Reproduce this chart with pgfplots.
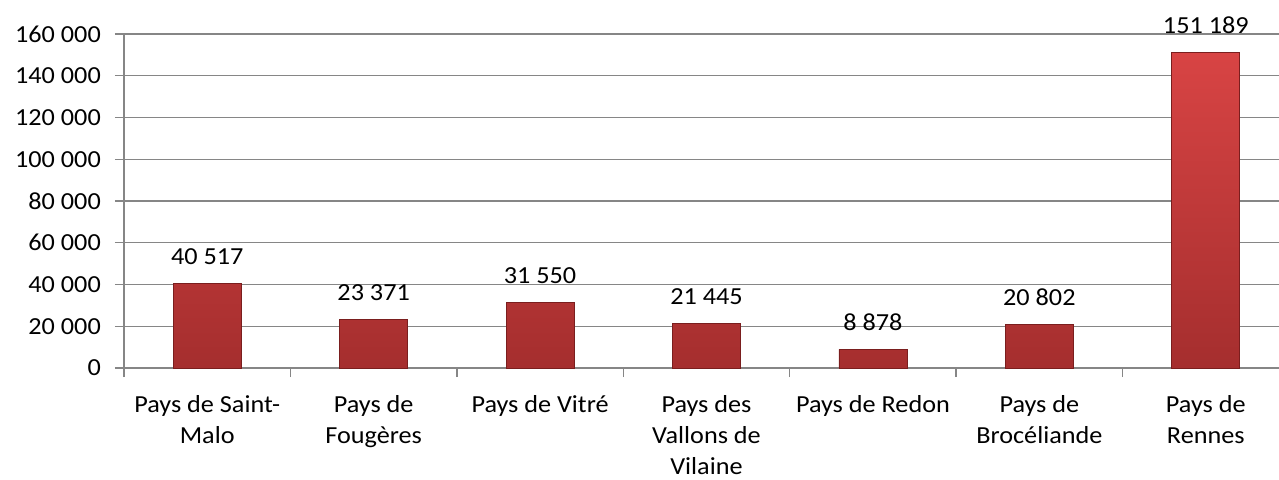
\documentclass[border=0pt]{standalone}
\usepackage{fontspec}
\setmainfont[FakeStretch=1.07]{Carlito}
\usepackage{pgfplots}
\pgfplotsset{compat=1.18}
\definecolor{gridc}{HTML}{868686}
\definecolor{barTop}{HTML}{D84444}
\definecolor{barBot}{HTML}{A52E2E}
\definecolor{barEdge}{HTML}{7A1E1E}
\begin{document}
\begin{tikzpicture}[font=\fontsize{24.5}{31}\selectfont]
\begin{pgfinterruptboundingbox}
\begin{axis}[
  at={(0,0)}, anchor=south west,
  scale only axis, width=1165pt, height=334pt,
  xmin=-0.5, xmax=6.5, ymin=0, ymax=160000,
  axis lines*=left,
  axis line style={gridc, line width=1.4pt},
  ymajorgrids, grid style={gridc, line width=1.4pt},
  ytick={0,20000,...,160000},
  scaled y ticks=false,
  xtick={-0.5,0.5,1.5,2.5,3.5,4.5,5.5,6.5},
  x tick label as interval,
  xticklabels={{Pays de Saint-\\Malo},{Pays de\\Fougères},{Pays de Vitré},{Pays des\\Vallons de\\Vilaine},{Pays de Redon},{Pays de\\Brocéliande},{Pays de\\Rennes}},
  tick align=outside,
  major tick length=9pt,
  tick style={gridc, line width=1.4pt},
  /pgf/number format/fixed,
  /pgf/number format/precision=0,
  /pgf/number format/1000 sep={\ },
  /pgf/number format/assume math mode=true,
  tick label style={font=\fontsize{24.5}{31}\selectfont, black},
  yticklabel style={anchor=east, inner sep=0pt, xshift=-14pt},
  xticklabel style={align=center, anchor=north, inner sep=0pt, yshift=-18pt},
  ybar, bar width=68pt,
]
\addplot[draw=barEdge, line width=0.8pt, top color=barTop, bottom color=barBot,
  nodes near coords,
  every node near coord/.append style={anchor=base, inner sep=0pt, yshift=19pt, black, font=\fontsize{24.5}{31}\selectfont}]
  coordinates {(0,40517) (1,23371) (2,31550) (3,21445) (4,8878) (5,20802) (6,151189)};
\end{axis}
\end{pgfinterruptboundingbox}
\useasboundingbox (-124pt,-111pt) rectangle (1155pt,368pt);
\end{tikzpicture}
\end{document}
